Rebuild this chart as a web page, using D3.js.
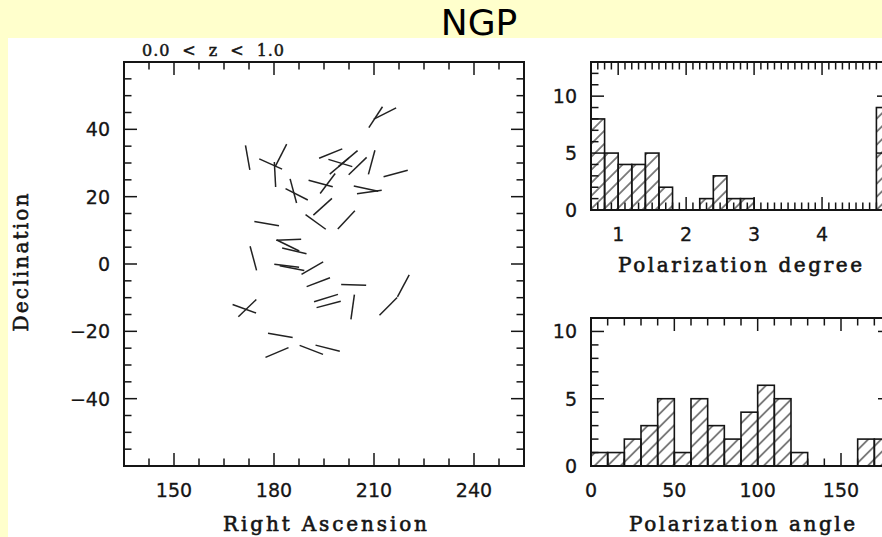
<!DOCTYPE html>
<html>
<head>
<meta charset="utf-8">
<script src="https://cdn.jsdelivr.net/npm/d3@7/dist/d3.min.js"></script>
<style>
  body { margin: 0; background: #ffffcc; }
  svg { display: block; }
</style>
</head>
<body>
<div id="chart"></div>
<script>
// polarization vectors: position on the sky and angle (deg, from north towards increasing RA)
const vecRA = [210.5, 213.3, 172.1, 179.0, 182.1, 180.3, 197.0, 199.9, 199.6, 202.2,
    205.1, 209.3, 216.5, 194.0, 196.1, 207.6, 208.6, 186.8, 185.8, 194.6,
    192.5, 201.7, 177.8, 184.4, 184.2, 186.1, 173.8, 183.8, 185.4, 191.5,
    193.3, 203.9, 203.6, 195.6, 196.4, 214.3, 218.8, 171.1, 172.0, 181.9,
    180.9, 191.2, 196.1];
const vecDec = [43.6, 44.7, 31.6, 29.7, 32.3, 26.6, 32.8, 30.0, 29.1, 31.3,
    29.1, 30.2, 26.9, 23.9, 23.9, 22.4, 21.4, 20.7, 21.7, 17.0,
    12.5, 13.1, 12.0, 7.2, 5.5, 3.9, 1.7, -0.5, -1.2, -1.2,
    -5.4, -6.2, -12.8, -10.1, -12.0, -12.6, -6.5, -13.3, -13.1, -21.2,
    -26.3, -25.5, -25.0];
const vecAngle = [33, 63, 170, 114, 27, 177, 68, 107, 50, 50,
    46, 15, 75, 105, 37, 102, 82, 117, 165, 48,
    126, 43, 100, 88, 116, 103, 165, 97, 101, 60,
    69, 92, 8, 73, 75, 45, 28, 110, 46, 100,
    67, 111, 104];

// histogram of polarization degree (bins of 0.2)
const degreeBins = [0.6, 0.8, 1.0, 1.2, 1.4, 1.6, 1.8, 2.0, 2.2, 2.4, 2.6,
    2.8, 3.0, 3.2, 3.4, 3.6, 3.8, 4.0, 4.2, 4.4, 4.6, 4.8];
const degreeCounts = [8, 5, 4, 4, 5, 2, 0, 0, 1, 3, 1,
    1, 0, 0, 0, 0, 0, 0, 0, 0, 0, 9];

// histogram of polarization angle (bins of 10 deg)
const angleBins = [0, 10, 20, 30, 40, 50, 60, 70, 80, 90, 100, 110, 120, 130, 140, 150, 160, 170];
const angleCounts = [1, 1, 2, 3, 5, 1, 5, 3, 2, 4, 6, 5, 1, 0, 0, 0, 2, 2];

const raTicks = [150, 180, 210, 240];
const decTicks = [-40, -20, 0, 20, 40];
const degreeTicks = [1, 2, 3, 4];
const angleTicks = [0, 50, 100, 150];
const countTicks = [0, 5, 10];

const W = 882, H = 537;
const ink = "#151515";
const tickFont = "'DejaVu Sans', sans-serif";
const labelFont = "'DejaVu Serif', serif";
const MAJOR = 13, MINOR = 7.5, VEC_LEN = 25;

const svg = d3.select("#chart").append("svg")
    .attr("width", W)
    .attr("height", H);

svg.append("rect").attr("width", W).attr("height", H).attr("fill", "#ffffcc");
svg.append("rect").attr("x", 8).attr("y", 38).attr("width", W - 8).attr("height", H - 38).attr("fill", "#ffffff");

svg.append("text")
    .attr("x", 479)
    .attr("y", 35)
    .attr("text-anchor", "middle")
    .style("font-family", tickFont)
    .style("font-size", "36px")
    .attr("fill", "#000")
    .text("NGP");

const defs = svg.append("defs");
const hatch = defs.append("pattern")
    .attr("id", "hatch")
    .attr("patternUnits", "userSpaceOnUse")
    .attr("width", 9.2)
    .attr("height", 10)
    .attr("patternTransform", "rotate(45)");
hatch.append("line")
    .attr("x1", 4.6).attr("x2", 4.6)
    .attr("y1", -1).attr("y2", 11)
    .attr("stroke", "#333")
    .attr("stroke-width", 1.2);

// frame with ticks on all four sides
function drawFrame(x, y, xMajor, xMinor, yMajor, yMinor) {
    const [xl, xr] = x.range();
    const [yb, yt] = y.range();
    const g = svg.append("g").attr("stroke", ink).attr("fill", "none");

    const xt = xMinor.map(v => ({ v, len: MINOR })).concat(xMajor.map(v => ({ v, len: MAJOR })));
    const yt2 = yMinor.map(v => ({ v, len: MINOR })).concat(yMajor.map(v => ({ v, len: MAJOR })));

    g.selectAll("line.xb").data(xt).enter().append("line")
        .attr("x1", d => x(d.v)).attr("x2", d => x(d.v))
        .attr("y1", yb).attr("y2", d => yb - d.len)
        .attr("stroke-width", 1.5);
    g.selectAll("line.xt").data(xt).enter().append("line")
        .attr("x1", d => x(d.v)).attr("x2", d => x(d.v))
        .attr("y1", yt).attr("y2", d => yt + d.len)
        .attr("stroke-width", 1.5);
    g.selectAll("line.yl").data(yt2).enter().append("line")
        .attr("y1", d => y(d.v)).attr("y2", d => y(d.v))
        .attr("x1", xl).attr("x2", d => xl + d.len)
        .attr("stroke-width", 1.5);
    g.selectAll("line.yr").data(yt2).enter().append("line")
        .attr("y1", d => y(d.v)).attr("y2", d => y(d.v))
        .attr("x1", xr).attr("x2", d => xr - d.len)
        .attr("stroke-width", 1.5);

    g.append("rect")
        .attr("x", xl).attr("y", yt)
        .attr("width", xr - xl).attr("height", yb - yt)
        .attr("stroke-width", 2);
}

function tickLabels(x, y, xVals, yVals) {
    const [xl] = x.range();
    const [yb] = y.range();
    svg.append("g").selectAll("text").data(xVals).enter().append("text")
        .attr("x", d => x(d))
        .attr("y", yb + 31)
        .attr("text-anchor", "middle")
        .style("font-family", tickFont)
        .style("font-size", "19px")
        .attr("fill", ink)
        .attr("stroke", ink)
        .attr("stroke-width", 0.3)
        .text(d => d);
    svg.append("g").selectAll("text").data(yVals).enter().append("text")
        .attr("x", xl - 14)
        .attr("y", d => y(d))
        .attr("dy", "0.36em")
        .attr("text-anchor", "end")
        .style("font-family", tickFont)
        .style("font-size", "19px")
        .attr("fill", ink)
        .attr("stroke", ink)
        .attr("stroke-width", 0.3)
        .text(d => d < 0 ? "\u2212" + Math.abs(d) : d);
}

function axisTitle(text, cx, cy, len, rotate) {
    svg.append("text")
        .attr("transform", `translate(${cx},${cy})` + (rotate ? " rotate(-90)" : ""))
        .attr("text-anchor", "middle")
        .attr("textLength", len)
        .attr("lengthAdjust", "spacing")
        .style("font-family", labelFont)
        .style("font-size", "20px")
        .attr("fill", ink)
        .attr("stroke", ink)
        .attr("stroke-width", 0.6)
        .text(text);
}

// ---- sky map ----
const xRA = d3.scaleLinear().domain([135, 255]).range([124, 524]);
const yDec = d3.scaleLinear().domain([-60, 60]).range([466, 62]);

drawFrame(xRA, yDec, raTicks, d3.range(142.5, 255, 7.5).filter(v => !raTicks.includes(v)),
    decTicks, d3.range(-55, 60, 5).filter(v => !decTicks.includes(v)));
tickLabels(xRA, yDec, raTicks, decTicks);
axisTitle("Right Ascension", 325, 531, 204, false);
axisTitle("Declination", 28, 262.5, 138, true);

svg.append("text")
    .attr("x", 142)
    .attr("y", 56)
    .attr("textLength", 142)
    .attr("lengthAdjust", "spacing")
    .style("font-family", labelFont)
    .style("font-size", "16px")
    .style("white-space", "pre")
    .attr("fill", ink)
    .attr("stroke", ink)
    .attr("stroke-width", 0.5)
    .text("0.0  <  z  <  1.0");

const vectors = vecRA.map((ra, i) => ({ ra, dec: vecDec[i], ang: vecAngle[i] }));
svg.append("g").selectAll("line").data(vectors).enter().append("line")
    .attr("x1", d => xRA(d.ra) - VEC_LEN / 2 * Math.sin(d.ang * Math.PI / 180))
    .attr("y1", d => yDec(d.dec) + VEC_LEN / 2 * Math.cos(d.ang * Math.PI / 180))
    .attr("x2", d => xRA(d.ra) + VEC_LEN / 2 * Math.sin(d.ang * Math.PI / 180))
    .attr("y2", d => yDec(d.dec) - VEC_LEN / 2 * Math.cos(d.ang * Math.PI / 180))
    .attr("stroke", "#222")
    .attr("stroke-width", 1.5);

// ---- polarization degree histogram ----
const xDeg = d3.scaleLinear().domain([0.6, 5.0]).range([591, 890]);
const yDeg = d3.scaleLinear().domain([0, 13]).range([210, 62]);

svg.append("g").selectAll("rect")
    .data(degreeBins.map((b, i) => ({ b, c: degreeCounts[i] })).filter(d => d.c > 0))
    .enter().append("rect")
    .attr("x", d => xDeg(d.b))
    .attr("y", d => yDeg(d.c))
    .attr("width", d => xDeg(d.b + 0.2) - xDeg(d.b))
    .attr("height", d => yDeg(0) - yDeg(d.c))
    .attr("fill", "url(#hatch)")
    .attr("stroke", ink)
    .attr("stroke-width", 1.6);

drawFrame(xDeg, yDeg, [1, 2, 3, 4, 5], d3.range(0.7, 5.0, 0.1).map(v => +v.toFixed(1)).filter(v => v % 1 !== 0),
    [0, 5, 10], d3.range(1, 13).filter(v => v % 5 !== 0));
tickLabels(xDeg, yDeg, degreeTicks, countTicks);
axisTitle("Polarization degree", 740, 272, 244, false);

// ---- polarization angle histogram ----
const xAng = d3.scaleLinear().domain([0, 180]).range([591, 891]);
const yAng = d3.scaleLinear().domain([0, 11]).range([466, 318]);

svg.append("g").selectAll("rect")
    .data(angleBins.map((b, i) => ({ b, c: angleCounts[i] })).filter(d => d.c > 0))
    .enter().append("rect")
    .attr("x", d => xAng(d.b))
    .attr("y", d => yAng(d.c))
    .attr("width", d => xAng(d.b + 10) - xAng(d.b))
    .attr("height", d => yAng(0) - yAng(d.c))
    .attr("fill", "url(#hatch)")
    .attr("stroke", ink)
    .attr("stroke-width", 1.6);

drawFrame(xAng, yAng, [0, 50, 100, 150], d3.range(10, 180, 10).filter(v => v % 50 !== 0),
    [0, 5, 10], d3.range(1, 11).filter(v => v % 5 !== 0));
tickLabels(xAng, yAng, angleTicks, countTicks);
axisTitle("Polarization angle", 742, 531, 226, false);
</script>
</body>
</html>
